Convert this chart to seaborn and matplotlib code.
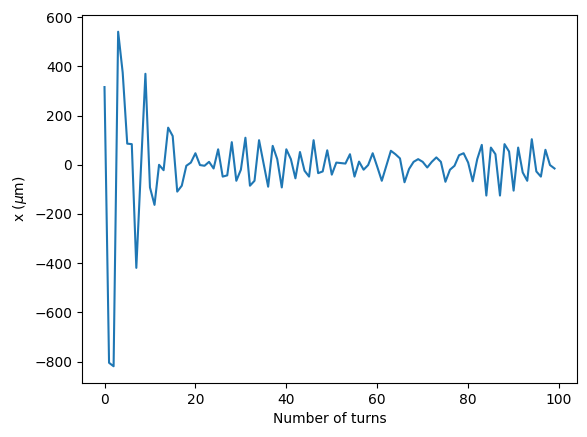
import matplotlib
matplotlib.use("Agg")
import matplotlib.pyplot as plt
import seaborn as sns
import pandas as pd

turns = list(range(100))
x_um = [
    316, -805, -819, 541, 375, 86, 84, -419, -20, 370,
    -92, -163, 0, -22, 151, 117, -109, -85, -4, 9,
    47, -1, -4, 12, -15, 63, -48, -43, 92, -65,
    -20, 110, -85, -65, 100, 5, -89, 77, 23, -92,
    63, 23, -55, 52, -24, -48, 100, -34, -27, 59,
    -40, 9, 7, 5, 43, -48, 13, -20, -1, 47,
    -8, -65, -4, 57, 43, 26, -71, -17, 12, 23,
    12, -11, 12, 30, 12, -69, -20, -4, 39, 47,
    9, -67, 23, 81, -125, 70, 43, -125, 84, 54,
    -105, 70, -31, -65, 104, -27, -48, 61, -1, -15,
]

df = pd.DataFrame({"turn": turns, "x": x_um})

fig, ax = plt.subplots(figsize=(5.87, 4.37), dpi=100)
fig.subplots_adjust(left=0.1397, right=0.983, top=0.9657, bottom=0.1236)
sns.lineplot(data=df, x="turn", y="x", ax=ax, color="#1f77b4", linewidth=1.5)
ax.set_xlabel("Number of turns")
ax.set_ylabel(r"x ($\mu$m)")
fig.savefig("out.png", dpi=100)
